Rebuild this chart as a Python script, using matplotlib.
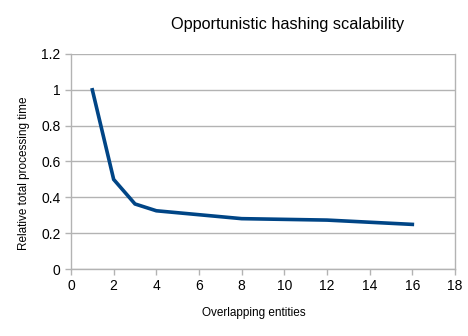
import matplotlib
matplotlib.use("Agg")
import matplotlib.pyplot as plt

# data
entities = [1, 2, 3, 4, 8, 12, 16]
rel_time = [1.0, 0.50, 0.363, 0.325, 0.281, 0.273, 0.249]

x_ticks = [0, 2, 4, 6, 8, 10, 12, 14, 16, 18]
y_ticks = [0, 0.2, 0.4, 0.6, 0.8, 1.0, 1.2]
y_labels = ["0", "0.2", "0.4", "0.6", "0.8", "1", "1.2"]

plt.rcParams['font.family'] = ['Liberation Sans', 'DejaVu Sans']

grid_col = "#b3b3b3"

fig = plt.figure(figsize=(4.68, 3.36), dpi=100)
ax = fig.add_axes([0.1517, 0.1994, 0.8205, 0.6399])

ax.plot(entities, rel_time, color="#004586", linewidth=2.6, solid_joinstyle="miter")

ax.set_xlim(0, 18)
ax.set_ylim(0, 1.2)
ax.set_xticks(x_ticks)
ax.set_yticks(y_ticks)
ax.set_yticklabels(y_labels)
ax.yaxis.grid(True, color=grid_col, linewidth=1)
ax.set_axisbelow(True)

for side in ["left", "right", "bottom"]:
    ax.spines[side].set_color(grid_col)
    ax.spines[side].set_linewidth(1)
ax.spines["top"].set_visible(False)

ax.tick_params(axis="both", colors=grid_col, labelcolor="black", labelsize=10,
               length=4, width=1, direction="out")
ax.tick_params(axis="x", pad=3)

ax.set_xlabel("Overlapping entities", fontsize=8.5)
ax.set_ylabel("Relative total processing time", fontsize=8.5)
ax.xaxis.set_label_coords(0.475, -0.176)
ax.yaxis.set_label_coords(-0.106, 0.444)
fig.text(0.614, 0.926, "Opportunistic hashing scalability", fontsize=11.7,
         ha="center", va="center")

fig.savefig("out.png", dpi=100)
